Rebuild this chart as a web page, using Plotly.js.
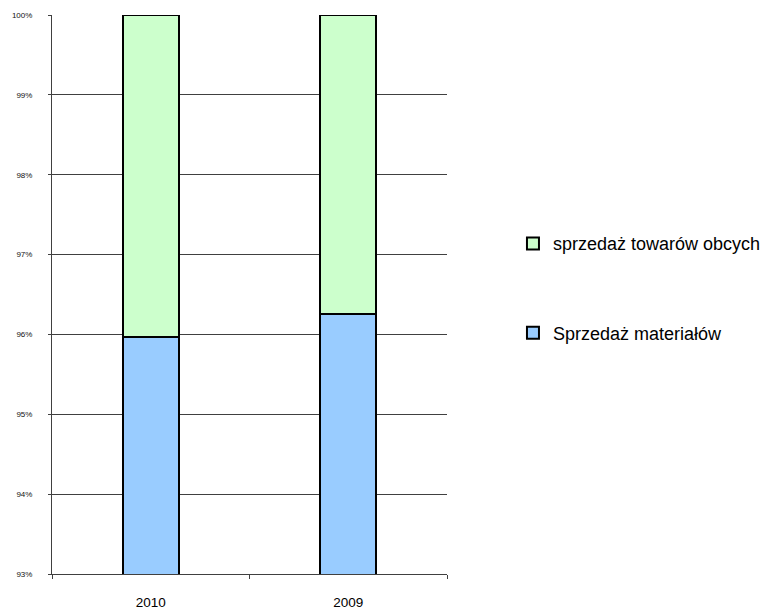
<!DOCTYPE html>
<html>
<head>
<meta charset="utf-8">
<script src="https://cdn.plot.ly/plotly-3.0.1.min.js"></script>
<style>
  html, body { margin: 0; padding: 0; background: #fff; }
  #chart { width: 762px; height: 614px; }
</style>
</head>
<body>
<div id="chart"></div>
<script>
// Sales structure by year (share of total, %)
const years = ['2010', '2009'];
const materialsShare = [95.965, 96.26];     // Sprzedaż materiałów
const goodsShare = [4.035, 3.74];           // sprzedaż towarów obcych
const yTickValues = [93, 94, 95, 96, 97, 98, 99, 100];
const yTickLabels = ['93%', '94%', '95%', '96%', '97%', '98%', '99%', '100%'];

const barLine = { color: '#000', width: 2 };

const traces = [
  {
    type: 'bar', name: 'Sprzedaż materiałów', x: years, y: materialsShare,
    marker: { color: '#99CCFF', line: barLine }, legendgroup: 'a', legendrank: 2
  },
  {
    type: 'bar', name: 'sprzedaż towarów obcych', x: years, y: goodsShare,
    marker: { color: '#CCFFCC', line: barLine }, legendgroup: 'b', legendrank: 1
  }
];

const layout = {
  width: 762, height: 614,
  margin: { l: 52, r: 315, t: 14.5, b: 40, autoexpand: false },
  paper_bgcolor: '#fff', plot_bgcolor: '#fff',
  barmode: 'stack',
  bargap: 0.716,
  font: { family: 'Liberation Sans, Arial, sans-serif', color: '#000' },
  xaxis: {
    type: 'category',
    showline: true, linecolor: '#404040', linewidth: 1,
    ticks: 'outside', ticklen: 4, tickcolor: '#404040', tickson: 'boundaries',
    showgrid: false, ticklabelstandoff: 16,
    tickfont: { size: 13.5, color: '#000' }
  },
  yaxis: {
    range: [93, 100],
    tickvals: yTickValues, ticktext: yTickLabels,
    showline: true, linecolor: '#404040', linewidth: 1,
    ticks: 'outside', ticklen: 3, tickcolor: '#404040',
    showgrid: true, gridcolor: '#404040', gridwidth: 1,
    zeroline: false, ticklabelstandoff: 14,
    tickfont: { size: 8, color: '#111' }
  },
  showlegend: true,
  legend: {
    x: 1.167, xanchor: 'left', y: 0.624, yanchor: 'top',
    traceorder: 'grouped', tracegroupgap: 63,
    font: { size: 18, color: '#000' },
    bgcolor: 'rgba(0,0,0,0)'
  }
};

Plotly.newPlot('chart', traces, layout, { displayModeBar: false, staticPlot: true });
</script>
</body>
</html>
